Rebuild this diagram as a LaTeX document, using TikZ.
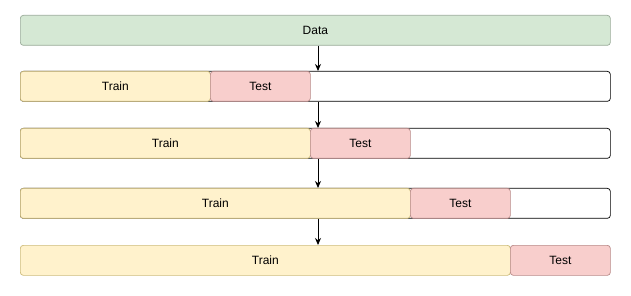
\documentclass[tikz,border=0pt]{standalone}
\usepackage{fontspec}
\setmainfont{Liberation Sans}
\usetikzlibrary{arrows.meta}

\definecolor{datafill}{HTML}{D5E8D4}
\definecolor{dataline}{HTML}{9AAB99}
\definecolor{trainfill}{HTML}{FFF2CC}
\definecolor{trainline}{HTML}{CDBB7A}
\definecolor{testfill}{HTML}{F8CECC}
\definecolor{testline}{HTML}{B88A88}

\tikzset{
  bar/.style={rectangle, rounded corners=3pt, anchor=north west, minimum height=30pt,
    inner sep=0pt, line width=0.7pt, font=\fontsize{12}{14}\selectfont},
  frame/.style={bar, draw=black, fill=white},
  databar/.style={bar, draw=dataline, fill=datafill},
  trainbar/.style={bar, draw=trainline, fill=trainfill},
  testbar/.style={bar, draw=testline, fill=testfill},
  arr/.style={-{Stealth[length=7pt,width=6pt]}, line width=0.9pt}
}

\begin{document}
\begin{tikzpicture}[x=1pt, y=-1pt]
  \useasboundingbox (0,0) rectangle (631,296);
  \node[databar, minimum width=590pt] (data) at (20,15) {Data};
  % split 1
  \node[frame, minimum width=590pt] (r1) at (20,71) {};
  \node[trainbar, minimum width=190pt] (train1) at (20,71) {Train};
  \node[testbar, minimum width=100pt] (test1) at (210,71) {Test};
  % split 2
  \node[frame, minimum width=590pt] (r2) at (20,128) {};
  \node[trainbar, minimum width=290pt] (train2) at (20,128) {Train};
  \node[testbar, minimum width=100pt] (test2) at (310,128) {Test};
  % split 3
  \node[frame, minimum width=590pt] (r3) at (20,188) {};
  \node[trainbar, minimum width=390pt] (train3) at (20,188) {Train};
  \node[testbar, minimum width=100pt] (test3) at (410,188) {Test};
  % split 4
  \node[trainbar, minimum width=490pt] (train4) at (20,245) {Train};
  \node[testbar, minimum width=100pt] (test4) at (510,245) {Test};
  \coordinate (ax) at (318,0);
  \draw[arr] (data.south -| ax) -- (r1.north -| ax);
  \draw[arr] (r1.south -| ax) -- (r2.north -| ax);
  \draw[arr] (r2.south -| ax) -- (r3.north -| ax);
  \draw[arr] (r3.south -| ax) -- (train4.north -| ax);
\end{tikzpicture}
\end{document}
